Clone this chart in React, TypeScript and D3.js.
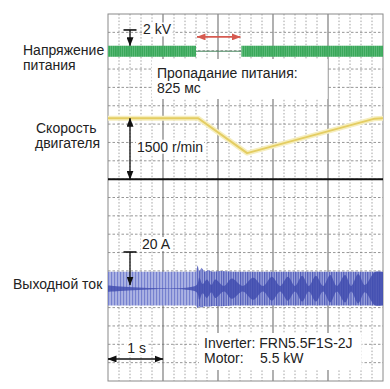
import React, { useEffect, useRef } from 'react';
import * as d3 from 'd3';

// time base: 1 s per major division, 5 s on screen
const timeDomain = [0, 5];
const majorTicks = [0, 1, 2, 3, 4, 5];
const divisions = 20;

// supply voltage (kV): trace on / lost / on
const supplyOn = [[0, 1.6], [2.425, 5]];
const supplyAmp = 0.52;
const lossStart = 1.6;
const lossMs = 825;

// motor speed, r/min
const speedT = [0, 1.64, 2.53, 4.85, 5];
const speedRpm = [1500, 1500, 640, 1490, 1500];

// output current envelope, A
const currentT = [0, 1.6, 1.63, 1.66, 1.7, 1.76, 1.82, 1.9, 2.05, 2.3, 5];
const currentHi = [9.2, 9.2, 12.8, 9.5, 11.4, 9.3, 10.2, 9.2, 9.6, 9.2, 9.2];
const currentLo = [-9.2, -9.2, -10.6, -9.7, -10.3, -9.5, -9.9, -9.4, -9.5, -9.2, -9.2];

// dense (dark) part of the current trace, A
const coreT = [0, 1.6, 1.66, 1.72, 1.8, 1.88, 1.95, 2.11, 2.25, 2.45, 2.64, 2.82, 2.98, 3.13, 3.27, 3.4, 3.53, 3.65, 3.78, 3.91, 4.04, 4.16, 4.31, 4.42, 4.55, 4.67, 4.85, 5];
const coreAmp = [1.7, 1.7, 6, 2.5, 5, 2, 5, 1.5, 5.5, 1.5, 6, 1.5, 6.5, 1.5, 6.5, 1.5, 7, 1.5, 7, 1.5, 7.5, 1.5, 7.5, 1.5, 8, 2, 9, 9];

const channelNames = [['Напряжение', 'питания'], ['Скорость', 'двигателя'], ['Выходной ток']];
const scaleLabels = ['2 kV', '1500 r/min', '20 A', '1 s'];
const noteLoss = ['Пропадание питания:', `${lossMs} мс`];
const noteDrive = ['Inverter: FRN5.5F1S-2J', 'Motor:', '5.5 kW'];

const FONT = '"Liberation Sans", Arial, sans-serif';

const App: React.FC = () => {
  const svgRef = useRef<SVGSVGElement>(null);

  useEffect(() => {
    if (!svgRef.current) return;
    const W = 390, H = 389;
    const plot = { left: 108, right: 383, top: 14, bottom: 381 };

    const svg = d3.select(svgRef.current).attr('width', W).attr('height', H).html('');

    const x = d3.scaleLinear().domain(timeDomain).range([plot.left, plot.right]);
    const gy = d3.scaleLinear().domain([0, divisions]).range([plot.top, plot.bottom]);
    const vY = d3.scaleLinear().domain([0, 2]).range([gy(2.03), gy(0.87)]);
    const sY = d3.scaleLinear().domain([0, 1500]).range([gy(9), gy(5.68)]);
    const iY = d3.scaleLinear().domain([0, 20]).range([gy(14.97), gy(12.97)]);

    const defs = svg.append('defs');
    const stripes = (id: string, bg: string, fg: string, step: number, w: number) => {
      const p = defs.append('pattern').attr('id', id).attr('patternUnits', 'userSpaceOnUse')
        .attr('width', step).attr('height', 10);
      p.append('rect').attr('width', step).attr('height', 10).attr('fill', bg);
      p.append('rect').attr('width', w).attr('height', 10).attr('fill', fg);
    };
    stripes('greenS', '#3aa85a', '#63bd7f', 2.2, 0.7);
    stripes('curA', '#abb2e3', '#7681cf', 3, 1.1);
    stripes('curB', '#a4abdf', '#4d59b8', 2.4, 1.2);

    const arrow = (id: string, color: string) => {
      defs.append('marker').attr('id', id).attr('markerUnits', 'userSpaceOnUse')
        .attr('markerWidth', 9).attr('markerHeight', 7).attr('refX', 8.5).attr('refY', 3.5)
        .attr('orient', 'auto-start-reverse')
        .append('path').attr('d', 'M0,0 L9,3.5 L0,7 z').attr('fill', color);
    };
    arrow('arr', '#111');
    arrow('arrRed', '#d65a50');

    defs.append('clipPath').attr('id', 'clipA').append('rect')
      .attr('x', plot.left).attr('y', 0).attr('width', x(lossStart) - plot.left).attr('height', H);
    defs.append('clipPath').attr('id', 'clipB').append('rect')
      .attr('x', x(lossStart)).attr('y', 0).attr('width', plot.right - x(lossStart)).attr('height', H);

    svg.append('rect').attr('width', W).attr('height', H).attr('fill', '#fff');

    // graticule
    const grid = svg.append('g');
    d3.range(timeDomain[0], timeDomain[1] + 0.001, 0.2).filter(t => Math.abs(t - Math.round(t)) > 0.01)
      .forEach(t => {
        grid.append('line').attr('x1', x(t)).attr('x2', x(t)).attr('y1', plot.top).attr('y2', plot.bottom)
          .attr('stroke', '#8c8c8c').attr('stroke-width', 0.8).attr('stroke-dasharray', '1.5,1.8');
      });
    d3.range(1, divisions).forEach(d => {
      grid.append('line').attr('x1', plot.left).attr('x2', plot.right).attr('y1', gy(d)).attr('y2', gy(d))
        .attr('stroke', '#7c7c7c').attr('stroke-width', 0.8).attr('stroke-dasharray', '2.5,2');
    });
    majorTicks.slice(1, -1).forEach(t => {
      grid.append('line').attr('x1', x(t)).attr('x2', x(t)).attr('y1', plot.top).attr('y2', plot.bottom)
        .attr('stroke', '#707070').attr('stroke-width', 1.1);
    });
    grid.append('rect').attr('x', plot.left).attr('y', plot.top)
      .attr('width', plot.right - plot.left).attr('height', plot.bottom - plot.top)
      .attr('fill', 'none').attr('stroke', '#8a8a8a').attr('stroke-width', 1);

    // label boxes + texts
    const labels = svg.append('g').attr('font-family', FONT).attr('font-size', 14).attr('fill', '#222');
    const boxed = (lines: { t: string; x: number; y: number }[], pad: [number, number, number, number]) => {
      const g = labels.append('g');
      const rect = g.append('rect').attr('fill', '#fff');
      lines.forEach(l => g.append('text').attr('x', l.x).attr('y', l.y).text(l.t));
      const bb = (g.node() as SVGGElement).getBBox();
      rect.attr('x', bb.x - pad[0]).attr('y', bb.y - pad[1])
        .attr('width', bb.width + pad[0] + pad[2]).attr('height', bb.height + pad[1] + pad[3]);
    };

    boxed([{ t: noteLoss[0], x: 157, y: 78 }, { t: noteLoss[1], x: 157, y: 93 }], [5, 6, 30, 3]);
    boxed([{ t: noteDrive[0], x: 204, y: 348 }, { t: noteDrive[1], x: 204, y: 363 }, { t: noteDrive[2], x: 260, y: 363 }], [5, 2, 9, 4]);

    // supply voltage
    supplyOn.forEach(([a, b]) => {
      svg.append('rect').attr('x', x(a)).attr('width', x(b) - x(a))
        .attr('y', vY(supplyAmp)).attr('height', vY(-supplyAmp) - vY(supplyAmp))
        .attr('fill', 'url(#greenS)');
    });
    svg.append('line').attr('x1', x(supplyOn[0][1])).attr('x2', x(supplyOn[1][0]))
      .attr('y1', vY(0)).attr('y2', vY(0)).attr('stroke', '#4f8d66').attr('stroke-width', 1.2);
    svg.append('line').attr('x1', x(lossStart) + 1).attr('x2', x(lossStart + lossMs / 1000) - 1)
      .attr('y1', vY(1.35)).attr('y2', vY(1.35)).attr('stroke', '#d65a50').attr('stroke-width', 1.6)
      .attr('marker-start', 'url(#arrRed)').attr('marker-end', 'url(#arrRed)');

    // speed
    const speedData = speedT.map((t, i) => ({ t, v: speedRpm[i] }));
    const sLine = d3.line<{ t: number; v: number }>().x(d => x(d.t)).y(d => sY(d.v));
    svg.append('path').datum(speedData).attr('d', sLine).attr('fill', 'none')
      .attr('stroke', '#f6eebe').attr('stroke-width', 5).attr('stroke-linejoin', 'round');
    svg.append('path').datum(speedData).attr('d', sLine).attr('fill', 'none')
      .attr('stroke', '#e4cd62').attr('stroke-width', 2).attr('stroke-linejoin', 'round');

    // zero line between speed and current
    svg.append('line').attr('x1', plot.left).attr('x2', plot.right).attr('y1', gy(9)).attr('y2', gy(9))
      .attr('stroke', '#111').attr('stroke-width', 2);

    // current
    const curData = currentT.map((t, i) => ({ t, hi: currentHi[i], lo: currentLo[i] }));
    const cArea = d3.area<{ t: number; hi: number; lo: number }>()
      .x(d => x(d.t)).y0(d => iY(d.lo)).y1(d => iY(d.hi));
    svg.append('path').datum(curData).attr('d', cArea).attr('fill', 'url(#curA)').attr('clip-path', 'url(#clipA)');
    svg.append('path').datum(curData).attr('d', cArea).attr('fill', 'url(#curB)').attr('clip-path', 'url(#clipB)');
    const coreData = coreT.map((t, i) => ({ t, a: coreAmp[i] }));
    const coreArea = d3.area<{ t: number; a: number }>()
      .x(d => x(d.t)).y0(d => iY(-d.a)).y1(d => iY(d.a)).curve(d3.curveCatmullRom.alpha(0.5));
    svg.append('path').datum(coreData).attr('d', coreArea).attr('fill', '#3f4cae').attr('opacity', 0.82);

    // scale markers
    const mx = x(0.4);
    const tBar = (y: number) => svg.append('line').attr('x1', mx - 6.5).attr('x2', mx + 6.5)
      .attr('y1', y).attr('y2', y).attr('stroke', '#111').attr('stroke-width', 1.6);
    const vArrow = (y1: number, y2: number, both: boolean) => {
      const l = svg.append('line').attr('x1', mx).attr('x2', mx).attr('y1', y1).attr('y2', y2)
        .attr('stroke', '#111').attr('stroke-width', 1.3).attr('marker-end', 'url(#arr)');
      if (both) l.attr('marker-start', 'url(#arr)');
    };
    tBar(vY(2));
    vArrow(vY(2), vY(supplyAmp), false);
    vArrow(sY(1500), sY(0), true);
    tBar(iY(20));
    vArrow(iY(20), iY(2), false);
    svg.append('line').attr('x1', x(0)).attr('x2', x(1)).attr('y1', gy(18.8)).attr('y2', gy(18.8))
      .attr('stroke', '#111').attr('stroke-width', 1.4)
      .attr('marker-start', 'url(#arr)').attr('marker-end', 'url(#arr)');

    const top = svg.append('g').attr('font-family', FONT).attr('font-size', 14).attr('fill', '#222');
    const small = (t: string, xx: number, yy: number) => {
      const g = top.append('g');
      const r = g.append('rect').attr('fill', '#fff');
      g.append('text').attr('x', xx).attr('y', yy).text(t);
      const bb = (g.node() as SVGGElement).getBBox();
      r.attr('x', bb.x - 1).attr('y', bb.y + 1).attr('width', bb.width + 2).attr('height', bb.height - 2);
    };
    small(scaleLabels[0], mx + 13, vY(2) + 4.5);
    small(scaleLabels[1], mx + 7, sY(750) + 3);
    small(scaleLabels[2], mx + 12, iY(20) - 3);
    small(scaleLabels[3], x(0.35), gy(18.8) - 6);

    // channel names
    const names = svg.append('g').attr('font-family', FONT).attr('font-size', 14).attr('fill', '#222');
    names.append('text').attr('x', 23).attr('y', 55).text(channelNames[0][0]);
    names.append('text').attr('x', 23).attr('y', 69.5).text(channelNames[0][1]);
    names.append('text').attr('x', 36).attr('y', 133).text(channelNames[1][0]);
    names.append('text').attr('x', 35).attr('y', 148).text(channelNames[1][1]);
    names.append('text').attr('x', 13).attr('y', 289).text(channelNames[2][0]);
  }, []);

  return (
    <div style={{ position: 'absolute', left: 0, top: 0 }}>
      <svg ref={svgRef} style={{ display: 'block' }}></svg>
    </div>
  );
};

export default App;
